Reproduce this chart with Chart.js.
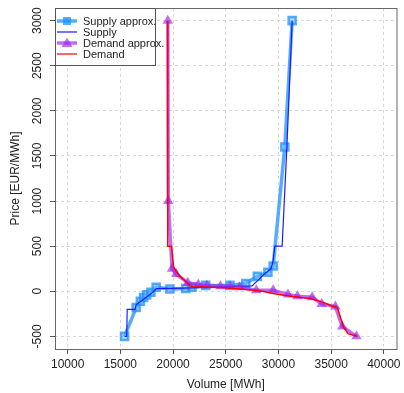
<!DOCTYPE html>
<html>
<head>
<meta charset="utf-8">
<script src="https://cdn.jsdelivr.net/npm/chart.js@4"></script>
<style>
  html, body { margin: 0; padding: 0; background: #fff; }
  #wrap { width: 404px; height: 393px; }
</style>
</head>
<body>
<div id="wrap"><canvas id="chart" width="404" height="393"></canvas></div>
<script>
// Supply approx points (volume, price)
const supplyApproxX = [15400, 16500, 16900, 17200, 17500, 17900, 18400, 19700, 21200, 21800, 23100, 25400, 26900, 28000, 29000, 29500, 30600, 31300];
const supplyApproxY = [-500, -180, -110, -70, -40, -10, 45, 25, 30, 45, 65, 65, 85, 165, 210, 280, 1600, 3000];

// Supply curve
const supplyX = [15400, 15600, 15650, 16400, 16500, 18100, 18400, 21000, 24000, 27500, 28700, 29300, 29500, 29650, 30350, 30800, 31300];
const supplyY = [-500, -500, -200, -200, -150, -10, 30, 35, 45, 60, 195, 250, 340, 500, 500, 1600, 3000];

// Demand approx points
const demandApproxX = [19500, 19550, 19900, 20300, 21400, 22400, 23200, 24500, 25400, 26300, 27900, 29500, 30900, 31800, 33200, 34100, 35400, 36050, 37400];
const demandApproxY = [3000, 1000, 250, 190, 95, 75, 65, 55, 55, 45, 10, 10, -35, -55, -65, -140, -170, -390, -500];

// Demand curve
const demandX = [19500, 19500, 19850, 20050, 20600, 21100, 21600, 22000, 25000, 27500, 28500, 29500, 30500, 31500, 33000, 34200, 35000, 35600, 35900, 36200, 36600, 37500];
const demandY = [3000, 500, 500, 270, 170, 120, 60, 50, 40, 15, 0, -25, -45, -60, -80, -120, -160, -180, -300, -400, -470, -500];

const xTicks = [10000, 15000, 20000, 25000, 30000, 35000, 40000];
const yTicks = [-500, 0, 500, 1000, 1500, 2000, 2500, 3000];

const FONT = 'Arial, "Liberation Sans", sans-serif';
const C_SUP_APX = 'rgba(30,144,255,0.75)';
const C_SUP = '#1a1aff';
const C_DEM_APX = 'rgba(160,32,240,0.65)';
const C_DEM = '#ff0000';

function pts(xs, ys) {
    return xs.map((x, i) => ({ x: x, y: ys[i] }));
}

const legendItems = [
    { label: 'Supply approx.', color: C_SUP_APX, width: 3.5, marker: 'rect' },
    { label: 'Supply', color: C_SUP, width: 1.2, marker: null },
    { label: 'Demand approx.', color: C_DEM_APX, width: 3.5, marker: 'triangle' },
    { label: 'Demand', color: C_DEM, width: 1.2, marker: null }
];

// Draws the plot box, rotated y labels and the inset legend
const decorPlugin = {
    id: 'decor',
    afterDraw(chart) {
        const ctx = chart.ctx;
        const a = chart.chartArea;
        ctx.save();
        ctx.strokeStyle = '#666';
        ctx.lineWidth = 1;
        ctx.strokeRect(a.left + 0.5, a.top + 0.5, a.right - a.left, a.bottom - a.top);

        // y tick labels, rotated like R's default
        ctx.fillStyle = '#222';
        ctx.font = '12px ' + FONT;
        ctx.textAlign = 'center';
        ctx.textBaseline = 'middle';
        yTicks.forEach(v => {
            const y = chart.scales.y.getPixelForValue(v);
            ctx.save();
            ctx.translate(38, y);
            ctx.rotate(-Math.PI / 2);
            ctx.fillText(String(v), 0, 0);
            ctx.restore();
        });

        // legend
        const lx = a.left, ly = a.top;
        ctx.fillStyle = '#fff';
        ctx.fillRect(lx, ly, 100, 57);
        ctx.strokeStyle = '#555';
        ctx.strokeRect(lx + 0.5, ly + 0.5, 100, 57);
        ctx.font = '11px ' + FONT;
        ctx.textAlign = 'left';
        legendItems.forEach((it, i) => {
            const y = ly + 13 + i * 11;
            ctx.strokeStyle = it.color;
            ctx.lineWidth = it.width;
            ctx.beginPath();
            ctx.moveTo(lx + 2, y);
            ctx.lineTo(lx + 22, y);
            ctx.stroke();
            ctx.fillStyle = it.color;
            if (it.marker === 'rect') {
                ctx.fillRect(lx + 8, y - 4, 8, 8);
            } else if (it.marker === 'triangle') {
                ctx.beginPath();
                ctx.moveTo(lx + 12, y - 5.5);
                ctx.lineTo(lx + 17.5, y + 4);
                ctx.lineTo(lx + 6.5, y + 4);
                ctx.closePath();
                ctx.fill();
            }
            ctx.fillStyle = '#222';
            ctx.fillText(it.label, lx + 28, y + 0.5);
        });
        ctx.restore();
    }
};

const gridOpts = { color: '#d9d9d9', tickColor: '#555', tickLength: 5, tickBorderDash: [], borderDash: [3, 3] };

const ctx = document.getElementById('chart').getContext('2d');
new Chart(ctx, {
    type: 'scatter',
    data: {
        datasets: [
            {
                label: 'Supply approx.',
                data: pts(supplyApproxX, supplyApproxY),
                showLine: true,
                borderColor: C_SUP_APX,
                borderWidth: 3.5,
                pointStyle: 'rect',
                pointRadius: 5,
                pointBorderWidth: 2.5,
                pointBorderColor: C_SUP_APX,
                pointBackgroundColor: 'rgba(120,190,255,0.55)',
                order: 4
            },
            {
                label: 'Supply',
                data: pts(supplyX, supplyY),
                showLine: true,
                borderColor: C_SUP,
                borderWidth: 1.2,
                pointRadius: 0,
                order: 3
            },
            {
                label: 'Demand approx.',
                data: pts(demandApproxX, demandApproxY),
                showLine: true,
                borderColor: C_DEM_APX,
                borderWidth: 3.5,
                pointStyle: 'triangle',
                pointRadius: 6,
                pointBorderWidth: 0,
                pointBackgroundColor: C_DEM_APX,
                order: 2
            },
            {
                label: 'Demand',
                data: pts(demandX, demandY),
                showLine: true,
                borderColor: C_DEM,
                borderWidth: 1.5,
                pointRadius: 0,
                order: 1
            }
        ]
    },
    options: {
        responsive: false,
        animation: false,
        layout: { padding: { top: 8, right: 7, left: 0, bottom: 0 } },
        plugins: {
            legend: { display: false },
            tooltip: { enabled: false }
        },
        scales: {
            x: {
                type: 'linear',
                min: 8800,
                max: 41200,
                afterFit: s => { s.height = 44; },
                afterBuildTicks: s => { s.ticks = xTicks.map(v => ({ value: v })); },
                grid: gridOpts,
                border: { display: false, dash: [3, 3] },
                ticks: {
                    color: '#222',
                    font: { size: 12, family: FONT },
                    padding: 3,
                    maxRotation: 0,
                    callback: v => String(v)
                },
                title: {
                    display: true,
                    text: 'Volume [MWh]',
                    color: '#222',
                    font: { size: 12, family: FONT },
                    padding: { top: 0, bottom: 1 }
                }
            },
            y: {
                type: 'linear',
                min: -640,
                max: 3140,
                afterFit: s => { s.width = 55; },
                afterBuildTicks: s => { s.ticks = yTicks.map(v => ({ value: v })); },
                grid: gridOpts,
                border: { display: false, dash: [3, 3] },
                ticks: { display: false },
                title: {
                    display: true,
                    text: 'Price [EUR/MWh]',
                    color: '#222',
                    font: { size: 12, family: FONT },
                    padding: { top: 8, bottom: 0 }
                }
            }
        }
    },
    plugins: [decorPlugin]
});
</script>
</body>
</html>
